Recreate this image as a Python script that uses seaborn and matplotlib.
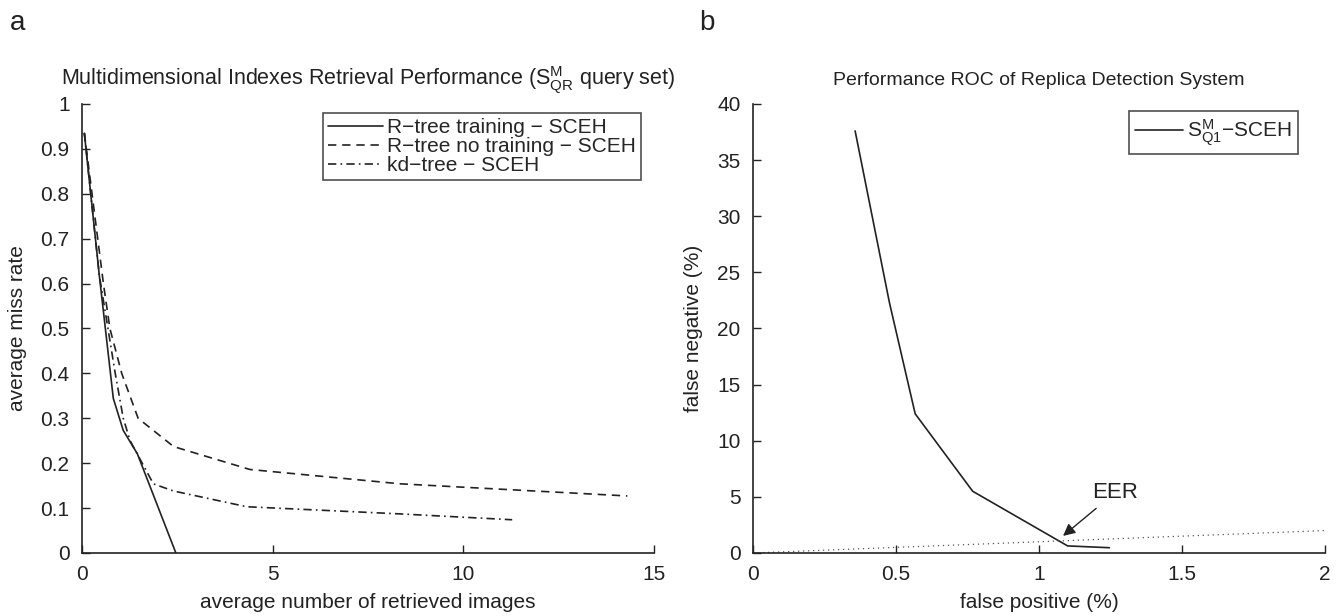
import numpy as np
import pandas as pd
import matplotlib
matplotlib.use("Agg")
import matplotlib.pyplot as plt
import seaborn as sns

# panel a: miss rate vs retrieved images
train_x = [0.06, 0.45, 0.82, 1.08, 1.45, 2.46]
train_y = [0.935, 0.62, 0.344, 0.273, 0.221, 0.0]
notrain_x = [0.06, 0.56, 0.73, 1.04, 1.47, 2.4, 4.4, 8.35, 14.3]
notrain_y = [0.935, 0.6, 0.5, 0.4, 0.30, 0.237, 0.186, 0.154, 0.127]
kd_x = [0.06, 0.45, 0.87, 1.08, 1.26, 1.87, 2.4, 4.32, 8.35, 11.28]
kd_y = [0.935, 0.62, 0.40, 0.30, 0.25, 0.154, 0.138, 0.103, 0.087, 0.074]
labels_a = ["R\u2212tree training \u2212 SCEH", "R\u2212tree no training \u2212 SCEH", "kd\u2212tree \u2212 SCEH"]

# panel b: ROC
fp = [0.357, 0.477, 0.567, 0.768, 1.10, 1.246]
fn = [37.6, 22.3, 12.4, 5.5, 0.63, 0.47]
eer_x = [0, 2]
eer_y = [0, 2]

sns.set_style("ticks")
plt.rcParams['font.family'] = ['Liberation Sans', 'DejaVu Sans']
plt.rcParams['mathtext.fontset'] = 'custom'
plt.rcParams['mathtext.rm'] = 'Liberation Sans'
plt.rcParams['mathtext.it'] = 'Liberation Sans'

ink = '#222222'
fs = 15

fig = plt.figure(figsize=(13.43, 6.16), dpi=100)
ax1 = fig.add_axes([0.0611, 0.1023, 0.4259, 0.7289])
ax2 = fig.add_axes([0.5607, 0.1023, 0.4259, 0.7289])

df_a = pd.concat([
    pd.DataFrame({'x': train_x, 'y': train_y, 'series': labels_a[0]}),
    pd.DataFrame({'x': notrain_x, 'y': notrain_y, 'series': labels_a[1]}),
    pd.DataFrame({'x': kd_x, 'y': kd_y, 'series': labels_a[2]}),
])
sns.lineplot(data=df_a, x='x', y='y', hue='series', style='series',
             palette=[ink] * 3, sort=False, estimator=None, linewidth=1.2, ax=ax1)
# matlab-like dash patterns
for line, ls in zip(ax1.get_lines()[:3], ['-', (0, (5, 3.5)), (0, (5, 2.5, 1, 2.5))]):
    line.set_linestyle(ls)

ax1.set_xlim(0, 15)
ax1.set_ylim(0, 1)
ax1.set_xticks([0, 5, 10, 15])
ax1.set_yticks(np.arange(0, 1.01, 0.1))
ax1.set_yticklabels(['0'] + ['%.1f' % v for v in np.arange(0.1, 0.95, 0.1)] + ['1'])
ax1.set_xlabel('average number of retrieved images', fontsize=fs, labelpad=6)
ax1.set_ylabel('average miss rate', fontsize=fs, labelpad=10)
ax1.set_title(r'Multidimensional Indexes Retrieval Performance (S$^{\rm M}_{\rm QR}$ query set)',
              fontsize=15.5, pad=14)
handles = ax1.get_lines()[:3]
leg = ax1.legend(handles, labels_a, loc='upper right', bbox_to_anchor=(0.977, 0.98),
                 fontsize=fs, frameon=True, fancybox=False, edgecolor=ink,
                 labelspacing=0.0, handlelength=2.6, handletextpad=0.2,
                 borderpad=0.25, borderaxespad=0.0)
leg.get_frame().set_linewidth(1.2)

df_b = pd.DataFrame({'fp': fp, 'fn': fn})
sns.lineplot(data=df_b, x='fp', y='fn', color=ink, linewidth=1.2, sort=False,
             estimator=None, ax=ax2, label='S$^{\\rm M}_{\\rm Q1}$\u2212SCEH')
ax2.plot(eer_x, eer_y, linestyle=(0, (1, 3)), color='#555555', linewidth=0.9)
ax2.annotate('EER', xy=(1.084, 1.52), xytext=(1.185, 5.36), fontsize=16, ha='left', va='center',
             color=ink,
             arrowprops=dict(arrowstyle='-|>', color=ink, lw=1.0, mutation_scale=18,
                             shrinkA=2, shrinkB=0))
ax2.set_xlim(0, 2)
ax2.set_ylim(0, 40)
ax2.set_xticks([0, 0.5, 1, 1.5, 2])
ax2.set_xticklabels(['0', '0.5', '1', '1.5', '2'])
ax2.set_yticks(range(0, 41, 5))
ax2.set_xlabel('false positive (%)', fontsize=fs, labelpad=6)
ax2.set_ylabel('false negative (%)', fontsize=fs, labelpad=10)
ax2.set_title('Performance ROC of Replica Detection System', fontsize=14, pad=14)
leg2 = ax2.legend(loc='upper right', bbox_to_anchor=(0.953, 0.984), fontsize=fs, frameon=True,
                  fancybox=False, edgecolor=ink, handlelength=2.3, handletextpad=0.2,
                  borderpad=0.3, borderaxespad=0.0)
leg2.get_frame().set_linewidth(1.2)

for ax in (ax1, ax2):
    sns.despine(ax=ax)
    ax.tick_params(direction='in', length=6, width=1.0, color=ink, labelsize=fs, pad=9, labelcolor=ink)
    for s in ('left', 'bottom'):
        ax.spines[s].set_color(ink)
        ax.spines[s].set_linewidth(1.2)
    ax.xaxis.label.set_color(ink)
    ax.yaxis.label.set_color(ink)
    ax.title.set_color(ink)

fig.text(0.007, 0.963, 'a', fontsize=20, va='center', color=ink)
fig.text(0.521, 0.963, 'b', fontsize=20, va='center', color=ink)

fig.savefig('out.png', dpi=100)
